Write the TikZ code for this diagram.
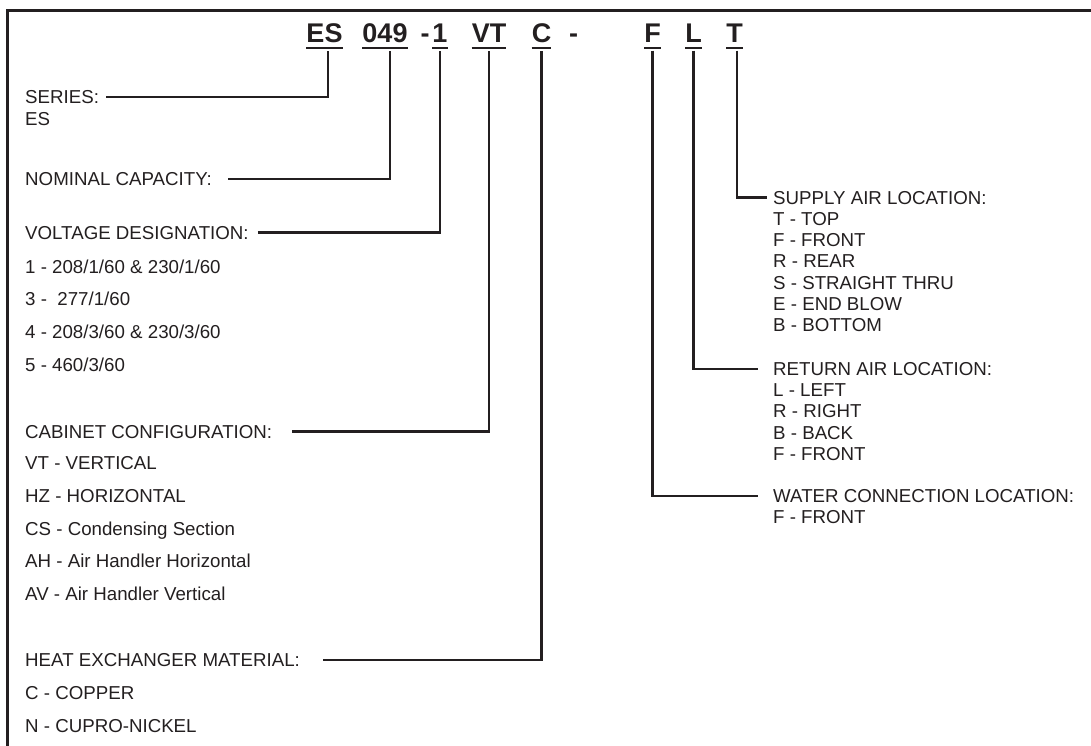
\documentclass[tikz,border=0pt]{standalone}
\usepackage{fontspec}
\setmainfont{Liberation Sans}
\definecolor{colink}{RGB}{35,31,32}
\usetikzlibrary{
	positioning
}
\tikzset{
	frameline/.style={line width=3pt, draw=colink},
	codeline/.style={line width=2.8pt, draw=colink},
	underline/.style={line width=2pt, draw=colink},
	codenode/.style={font=\fontsize{27}{30}\selectfont\bfseries, text=colink,
		inner xsep=0pt, inner ysep=5pt, text height=19pt, text depth=0pt, anchor=base},
	lbl/.style={font=\fontsize{18.7}{21.5}\selectfont, text=colink,
		inner sep=0pt, text height=13.4pt, text depth=0pt, anchor=west},
	lst/.style={font=\fontsize{18.7}{32.7}\selectfont, text=colink,
		inner sep=0pt, align=left},
	rlst/.style={lst, font=\fontsize{18.7}{21.3}\selectfont}
}

\begin{document}
\begin{tikzpicture}[x=1pt, y=1pt]
	\useasboundingbox (0,0) rectangle (1091,-746);
	\draw[frameline] (7,-750) -- (7,-11) -- (1095,-11);

	% model code
	\node[codenode] (ES) at (324.5,-43) {ES};
	\node[codenode] (cap) at (385,-43) {049};
	\node[codenode] (dashA) at (425,-43) {-};
	\node[codenode] (volt) at (440,-43) {1};
	\node[codenode] (VT) at (489,-43) {VT};
	\node[codenode] (C) at (541.5,-43) {C};
	\node[codenode] (dashB) at (573.5,-43) {-};
	\node[codenode] (F) at (652.5,-43) {F};
	\node[codenode] (L) at (693.5,-43) {L};
	\node[codenode] (T) at (734.5,-43) {T};

	\draw[underline] (ES.south west) -- (ES.south east);
	\draw[underline] (cap.south west) -- (cap.south east);
	\draw[underline] (volt.south west) -- (volt.south east);
	\draw[underline] (VT.south west) -- (VT.south east);
	\draw[underline] (C.south west) -- (C.south east);
	\draw[underline] (F.south west) -- (F.south east);
	\draw[underline] (L.south west) -- (L.south east);
	\draw[underline] (T.south west) -- (T.south east);

	\coordinate (tES) at ([xshift=3.5pt, yshift=-2.5pt]ES.south);
	\coordinate (tcap) at ([xshift=5pt, yshift=-2.5pt]cap.south);
	\coordinate (tvolt) at ([yshift=-2.5pt]volt.south);
	\coordinate (tVT) at ([yshift=-2.5pt]VT.south);
	\coordinate (tC) at ([yshift=-2.5pt]C.south);
	\coordinate (tF) at ([yshift=-2.5pt]F.south);
	\coordinate (tL) at ([yshift=-2.5pt]L.south);
	\coordinate (tT) at ([xshift=2.5pt, yshift=-2.5pt]T.south);

	% left side
	\node[lbl] (series) at (25,-97) {SERIES:};
	\node[lst, below=8.1pt of series.south west, anchor=north west] (serieslist) {ES};
	\node[lbl] (nominal) at (25,-179) {NOMINAL CAPACITY:};
	\node[lbl] (voltage) at (25,-232.5) {VOLTAGE DESIGNATION:};
	\node[lst, below=20pt of voltage.south west, anchor=north west] (voltagelist)
		{1 - 208/1/60 \& 230/1/60\\3 -\ \ 277/1/60\\4 - 208/3/60 \& 230/3/60\\5 - 460/3/60};
	\node[lbl] (cabinet) at (25,-431.5) {CABINET CONFIGURATION:};
	\node[lst, below=18pt of cabinet.south west, anchor=north west] (cabinetlist)
		{VT - VERTICAL\\HZ - HORIZONTAL\\CS - Condensing Section\\AH - Air Handler Horizontal\\AV - Air Handler Vertical};
	\node[lbl] (heatx) at (25,-660) {HEAT EXCHANGER MATERIAL:};
	\node[lst, below=19.5pt of heatx.south west, anchor=north west] (heatxlist)
		{C - COPPER\\N - CUPRO-NICKEL};

	% right side
	\node[lbl] (supply) at (773,-197.5) {SUPPLY AIR LOCATION:};
	\node[rlst, below=7.5pt of supply.south west, anchor=north west] (supplylist)
		{T - TOP\\F - FRONT\\R - REAR\\S - STRAIGHT THRU\\E - END BLOW\\B - BOTTOM};
	\node[lbl] (return) at (773,-369) {RETURN AIR LOCATION:};
	\node[rlst, below=7.5pt of return.south west, anchor=north west] (returnlist)
		{L - LEFT\\R - RIGHT\\B - BACK\\F - FRONT};
	\node[lbl] (water) at (773,-496) {WATER CONNECTION LOCATION:};
	\node[rlst, below=7.5pt of water.south west, anchor=north west] (waterlist)
		{F - FRONT};

	% connectors
	\draw[codeline] ([xshift=7pt]series.east) -| (tES);
	\draw[codeline] ([xshift=16pt]nominal.east) -| (tcap);
	\draw[codeline] ([xshift=9pt]voltage.east) -| (tvolt);
	\draw[codeline] ([xshift=20pt]cabinet.east) -| (tVT);
	\draw[codeline] ([xshift=23pt]heatx.east) -| (tC);
	\draw[codeline] (tT) |- ([xshift=-6pt]supply.west);
	\draw[codeline] (tL) |- ([xshift=-15pt]return.west);
	\draw[codeline] (tF) |- ([xshift=-15pt]water.west);
\end{tikzpicture}
\end{document}
